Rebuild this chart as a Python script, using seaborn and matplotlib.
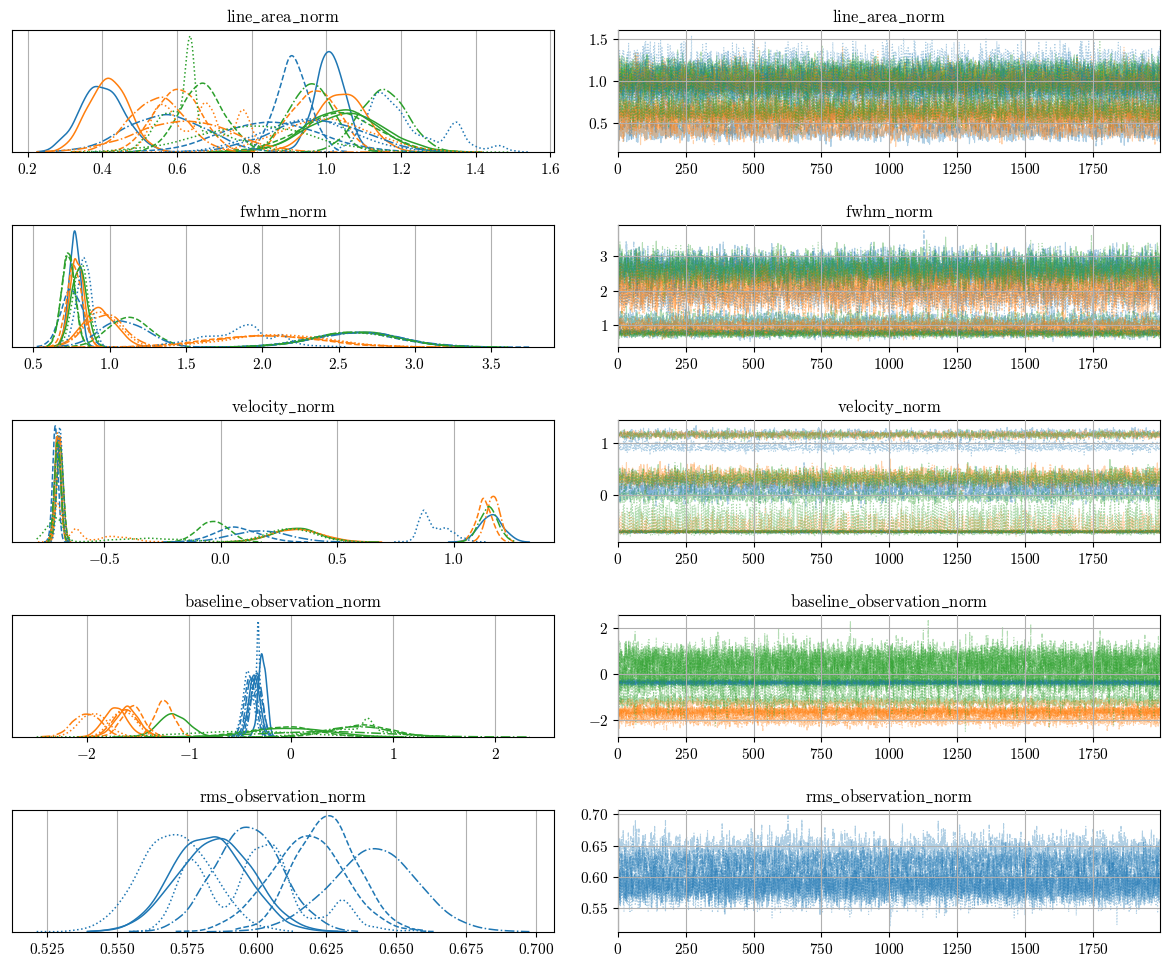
import numpy as np
import matplotlib
matplotlib.use("Agg")
import matplotlib.pyplot as plt
import seaborn as sns

# per-chain posterior shapes: (chain, colour, [(mean, sd, weight), ...])
# chain -> linestyle, colour -> component (C0/C1/C2)
var_names = ["line_area_norm", "fwhm_norm", "velocity_norm",
             "baseline_observation_norm", "rms_observation_norm"]

# y tick labels of the trace panels
trace_yticks = [[0.5, 1.0, 1.5], [1, 2, 3], [0, 1], [-2, 0, 2], [0.55, 0.60, 0.65, 0.70]]

line_area_curves = [
    (0, 0, [(0.40, 0.058, 1)]), (0, 0, [(1.01, 0.040, 1)]),
    (0, 1, [(0.415, 0.052, 1)]), (0, 1, [(1.04, 0.064, 1)]),
    (0, 2, [(1.04, 0.092, 1)]), (0, 2, [(1.05, 0.100, 1)]),
    (1, 0, [(0.91, 0.043, 1)]), (1, 0, [(0.85, 0.130, 1)]),
    (1, 1, [(0.60, 0.060, 1)]), (1, 1, [(0.97, 0.060, 1)]),
    (1, 2, [(0.67, 0.058, 1)]), (1, 2, [(1.03, 0.105, 1)]),
    (2, 0, [(0.57, 0.105, 1)]), (2, 0, [(0.97, 0.120, 1)]),
    (2, 1, [(0.545, 0.071, 1)]), (2, 1, [(0.62, 0.125, 1)]),
    (2, 2, [(0.96, 0.056, 1)]), (2, 2, [(1.15, 0.063, 1)]),
    (3, 0, [(1.15, 0.045, 0.61), (1.35, 0.015, 0.10), (1.26, 0.09, 0.27), (1.46, 0.035, 0.02)]),
    (3, 0, [(0.95, 0.120, 1)]),
    (3, 1, [(0.56, 0.03, 0.3), (0.68, 0.02, 0.2), (0.78, 0.02, 0.2), (0.66, 0.08, 0.3)]),
    (3, 1, [(1.00, 0.120, 1)]),
    (3, 2, [(0.635, 0.008, 0.25), (0.58, 0.05, 0.45), (0.72, 0.08, 0.30)]),
    (3, 2, [(0.80, 0.150, 1)]),
]

fwhm_curves = [
    (0, 0, [(0.77, 0.035, 1)]), (0, 0, [(2.62, 0.27, 1)]),
    (0, 1, [(0.785, 0.045, 1)]), (0, 1, [(0.93, 0.11, 1)]),
    (0, 2, [(0.80, 0.050, 1)]), (0, 2, [(2.62, 0.27, 1)]),
    (1, 0, [(0.75, 0.070, 1)]), (1, 0, [(2.60, 0.28, 1)]),
    (1, 1, [(0.77, 0.050, 1)]), (1, 1, [(2.00, 0.35, 1)]),
    (1, 2, [(0.73, 0.044, 1)]), (1, 2, [(1.13, 0.14, 1)]),
    (2, 0, [(1.09, 0.150, 1)]), (2, 0, [(2.64, 0.28, 1)]),
    (2, 1, [(0.97, 0.120, 1)]), (2, 1, [(2.05, 0.35, 1)]),
    (2, 2, [(0.73, 0.044, 1)]), (2, 2, [(2.62, 0.27, 1)]),
    (3, 0, [(0.83, 0.047, 1)]),
    (3, 0, [(1.90, 0.06, 0.20), (2.13, 0.03, 0.06), (1.85, 0.25, 0.60), (1.60, 0.15, 0.14)]),
    (3, 1, [(0.95, 0.110, 1)]), (3, 1, [(2.10, 0.33, 1)]),
    (3, 2, [(0.81, 0.050, 1)]), (3, 2, [(2.60, 0.28, 1)]),
]

velocity_curves = [
    (0, 0, [(-0.70, 0.013, 1)]), (0, 0, [(1.16, 0.048, 1)]),
    (0, 1, [(-0.69, 0.013, 1)]), (0, 1, [(0.33, 0.110, 1)]),
    (0, 2, [(-0.70, 0.013, 1)]), (0, 2, [(0.32, 0.096, 1)]),
    (1, 0, [(-0.71, 0.012, 1)]), (1, 0, [(0.07, 0.090, 1)]),
    (1, 1, [(-0.70, 0.013, 1)]), (1, 1, [(1.13, 0.032, 1)]),
    (1, 2, [(-0.69, 0.014, 1)]), (1, 2, [(-0.03, 0.063, 1)]),
    (2, 0, [(-0.70, 0.013, 1)]), (2, 0, [(0.17, 0.120, 1)]),
    (2, 1, [(-0.70, 0.012, 1)]), (2, 1, [(1.17, 0.029, 1)]),
    (2, 2, [(-0.70, 0.013, 1)]), (2, 2, [(1.15, 0.040, 1)]),
    (3, 0, [(-0.69, 0.012, 1)]), (3, 0, [(0.87, 0.02, 0.4), (0.95, 0.06, 0.6)]),
    (3, 1, [(-0.70, 0.012, 0.50), (-0.62, 0.02, 0.22), (-0.45, 0.08, 0.28)]),
    (3, 1, [(0.32, 0.100, 1)]),
    (3, 2, [(-0.70, 0.012, 0.40), (-0.745, 0.015, 0.20), (-0.30, 0.14, 0.40)]),
    (3, 2, [(0.30, 0.100, 1)]),
]

baseline_curves = [
    (0, 0, [(-0.28, 0.038, 1)]), (0, 0, [(-0.36, 0.053, 1)]),
    (0, 1, [(-1.72, 0.110, 1)]), (0, 1, [(-1.60, 0.110, 1)]),
    (0, 2, [(-1.15, 0.140, 1)]), (0, 2, [(0.00, 0.360, 1)]),
    (1, 0, [(-0.34, 0.053, 1)]), (1, 0, [(-0.40, 0.053, 1)]),
    (1, 1, [(-1.55, 0.110, 1)]), (1, 1, [(-1.24, 0.090, 1)]),
    (1, 2, [(-0.10, 0.320, 1)]), (1, 2, [(0.70, 0.280, 1)]),
    (2, 0, [(-0.33, 0.050, 1)]), (2, 0, [(-0.38, 0.053, 1)]),
    (2, 1, [(-2.00, 0.140, 1)]), (2, 1, [(-1.62, 0.120, 1)]),
    (2, 2, [(0.30, 0.600, 1)]), (2, 2, [(0.65, 0.300, 1)]),
    (3, 0, [(-0.32, 0.012, 0.35), (-0.38, 0.05, 0.65)]), (3, 0, [(-0.42, 0.053, 1)]),
    (3, 1, [(-1.93, 0.135, 1)]), (3, 1, [(-1.65, 0.120, 1)]),
    (3, 2, [(0.75, 0.03, 0.15), (0.60, 0.35, 0.85)]), (3, 2, [(-0.45, 0.600, 1)]),
]

rms_curves = [
    (0, 0, [(0.583, 0.0125, 1)]), (0, 0, [(0.585, 0.0135, 1)]),
    (1, 0, [(0.625, 0.0110, 1)]), (1, 0, [(0.6177, 0.0135, 1)]),
    (2, 0, [(0.597, 0.0116, 1)]), (2, 0, [(0.6423, 0.0155, 1)]),
    (3, 0, [(0.5710, 0.0125, 1)]),
    (3, 0, [(0.576, 0.005, 0.30), (0.598, 0.004, 0.20), (0.607, 0.004, 0.20),
            (0.600, 0.015, 0.15), (0.632, 0.003, 0.06), (0.625, 0.015, 0.09)]),
]

all_curves = [line_area_curves, fwhm_curves, velocity_curves, baseline_curves, rms_curves]

n_draws = 2000
chain_styles = ["-", "--", "-.", ":"]
palette = ["#1f77b4", "#ff7f0e", "#2ca02c"]

sns.set_style("ticks", {"axes.edgecolor": "black", "xtick.color": "black",
                        "ytick.color": "black", "text.color": "black",
                        "grid.color": "#b0b0b0"})
plt.rcParams["font.family"] = "serif"
plt.rcParams["font.serif"] = ["cmr10", "DejaVu Serif"]
plt.rcParams["mathtext.fontset"] = "cm"
plt.rcParams["axes.formatter.use_mathtext"] = True
plt.rcParams["font.size"] = 11


def make_draws(modes, seed):
    # posterior draws for one chain, built from the shape
    rng = np.random.default_rng(seed)
    mu, sd, w = np.array(modes, dtype=float).T
    pick = rng.choice(len(mu), size=n_draws, p=w / w.sum())
    return rng.normal(mu[pick], sd[pick])


fig, axes = plt.subplots(5, 2, figsize=(11.7, 9.72), dpi=100)
fig.subplots_adjust(left=0.0103, right=0.9915, top=0.969, bottom=0.0412,
                    wspace=0.118, hspace=0.598)

draw_idx = np.arange(n_draws)
for row, (name, curves) in enumerate(zip(var_names, all_curves)):
    ax_kde, ax_tr = axes[row]
    for i, (chain, colour, modes) in enumerate(curves):
        s = make_draws(modes, 100 * row + i)
        bw = 1.2 if len(modes) == 1 else 0.5  # smoother for single-mode chains
        sns.kdeplot(x=s, ax=ax_kde, color=palette[colour], linestyle=chain_styles[chain],
                    lw=1.1, cut=0, bw_adjust=bw)
        sns.lineplot(x=draw_idx, y=s, ax=ax_tr, color=palette[colour],
                     linestyle=chain_styles[chain], lw=0.8, alpha=0.35,
                     estimator=None, sort=False)

    title = r"$\mathrm{" + name.replace("_", r"\_") + "}$"
    ax_kde.set_title(title, fontsize=12)
    ax_tr.set_title(title, fontsize=12)

    ax_kde.set_yticks([])
    ax_kde.set_ylabel("")
    ax_kde.grid(True, axis="x", color="#b0b0b0", lw=0.8)

    ax_tr.set_xlim(0, n_draws - 1)
    ax_tr.set_xticks(np.arange(0, n_draws, 250))
    ax_tr.set_yticks(trace_yticks[row])
    ax_tr.set_ylabel("")
    ax_tr.grid(True, color="#b0b0b0", lw=0.8)
    ax_tr.set_axisbelow(False)

fig.savefig("out.png", dpi=100)
